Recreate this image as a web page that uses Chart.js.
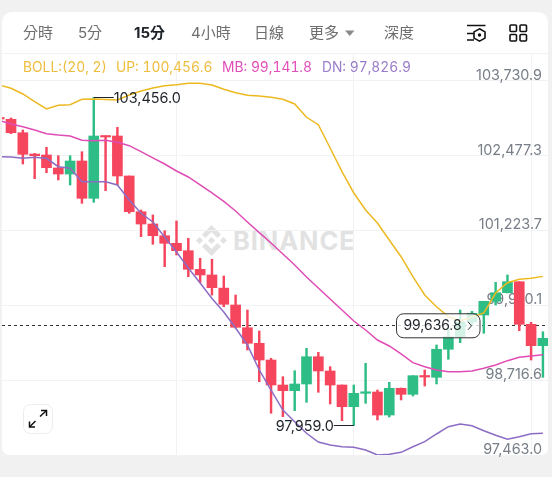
<!DOCTYPE html>
<html>
<head>
<meta charset="utf-8">
<script src="https://cdn.jsdelivr.net/npm/chart.js@4"></script>
<style>
html, body { margin: 0; padding: 0; background: #f1f1f1; overflow: hidden; }
#panel { position: absolute; left: 2px; top: 12px; width: 546px; height: 443px; background: #fff; border-radius: 10px 10px 7px 7px; }
#logo, #mark { position: absolute; }
#logo { left: 196px; top: 225px; width: 31px; height: 31px; }
#mark { left: 233px; top: 225px; font: 700 25.5px Inter, sans-serif; letter-spacing: 0.9px; color: #e2e2e2; }
canvas { position: absolute; left: 0; top: 0; }
.top { position: absolute; white-space: nowrap; font-family: Inter, "Noto Sans CJK TC", sans-serif; }
.tab { top: 23px; font-size: 15px; line-height: 20px; color: #6e6e6e; }
.tab.on { color: #1e2329; font-weight: 700; }
.boll { top: 58px; font-size: 13.8px; line-height: 18px; font-variant-numeric: tabular-nums; }
#rule { position: absolute; left: 2px; top: 53px; width: 546px; height: 1px; background: #f1f2f4; }
svg.icon { position: absolute; overflow: visible; }
</style>
</head>
<body>
<div id="panel"></div>
<svg id="logo" viewBox="0 0 126.61 126.61" fill="#e2e2e2">
  <path d="M38.73 53.2l24.59-24.58 24.6 24.6 14.3-14.31L63.32 0 24.43 38.9z"/>
  <path d="M0 63.31l14.3-14.31 14.31 14.31-14.31 14.3z"/>
  <path d="M38.73 73.41l24.59 24.59 24.6-24.6 14.31 14.29L63.32 126.61 24.42 87.72z"/>
  <path d="M98 63.31l14.3-14.31 14.31 14.3-14.31 14.32z"/>
  <path d="M77.83 63.3L63.32 48.78 48.81 63.28l14.51 14.5z"/>
</svg>
<div id="mark">BINANCE</div>
<canvas id="chart" width="552" height="477"></canvas>
<div id="rule"></div>

<span class="top tab" style="left:23px">分時</span>
<span class="top tab" style="left:78px">5分</span>
<span class="top tab on" style="left:134px">15分</span>
<span class="top tab" style="left:191px">4小時</span>
<span class="top tab" style="left:254px">日線</span>
<span class="top tab" style="left:309px">更多</span>
<span class="top tab" style="left:384px">深度</span>
<svg class="icon" style="left:0;top:0" width="552" height="60">
  <path d="M345 30.5h9.5l-4.75 5.5z" fill="#8a8a8a"/>
  <g fill="none" stroke="#111" stroke-width="1.6">
    <path d="M467 25.5h18.5M467 33.5h7M467 40h7"/>
    <path d="M479.5 28.8l5.5 3.1v6.2l-5.5 3.1-5.5-3.1v-6.2z"/>
    <rect x="510" y="25" width="6.5" height="6.5" rx="1"/>
    <rect x="520" y="25" width="6.5" height="6.5" rx="1"/>
    <rect x="510" y="34.5" width="6.5" height="6.5" rx="1"/>
    <rect x="520" y="34.5" width="6.5" height="6.5" rx="1"/>
  </g>
  <circle cx="479.5" cy="35" r="1.7" fill="#111"/>
</svg>
<span class="top boll" id="bollLabel" style="left:23px;color:#eebd3c"></span>
<span class="top boll" id="upLabel" style="left:116px;color:#eebd3c"></span>
<span class="top boll" id="mbLabel" style="left:222px;color:#e24fb9"></span>
<span class="top boll" id="dnLabel" style="left:322px;color:#9a7cc9"></span>
<svg class="icon" style="left:23px;top:404px" width="30" height="30">
  <rect x="0.5" y="0.5" width="29" height="29" rx="7" fill="#fff" stroke="#ececec"/>
  <g fill="none" stroke="#111" stroke-width="1.5">
    <path d="M7 22.5l5.5-5.5M17 12.5l6-5.5"/>
    <path d="M6.5 17.5v5.5h5.5M18 6.5h5.5v5.5"/>
  </g>
</svg>

<script>
var opens = [103119, 103089, 102864, 102507, 102491, 102273, 102172, 102390, 101765, 102809, 102809, 102139, 101540, 101334, 101138, 101011, 100887, 100575, 100480, 100260, 99977, 99596, 99335, 99055, 98636, 98541, 98653, 99110, 98871, 98636, 98273, 98497, 98519, 98133, 98581, 98480, 98792, 98765, 99235, 99446, 99692, 99809, 100039, 100183, 100367, 99653, 99295];
var closes = [103094, 102864, 102502, 102479, 102278, 102172, 102390, 101765, 102809, 102792, 102139, 101540, 101334, 101138, 101011, 100887, 100575, 100480, 100267, 99989, 99603, 99335, 99055, 98636, 98541, 98653, 99110, 98871, 98636, 98273, 98497, 98519, 98133, 98581, 98480, 98792, 98770, 99235, 99446, 99692, 99838, 100039, 100183, 100367, 99653, 99295, 99419];
var highs = [103130, 103111, 102910, 102516, 102620, 102479, 102479, 102546, 103456, 102809, 102955, 102139, 101569, 101485, 101222, 101385, 101095, 100760, 100743, 100463, 100144, 99893, 99541, 99084, 98775, 98876, 99251, 99184, 98943, 98636, 98636, 99000, 98552, 98681, 98586, 98792, 98888, 99307, 99558, 99893, 99870, 100039, 100357, 100480, 100367, 99687, 99529];
var lows = [103080, 102848, 102340, 102094, 102194, 102072, 101988, 101681, 101698, 101893, 101988, 101514, 101122, 100994, 100619, 100815, 100451, 100351, 100144, 99948, 99591, 99223, 98691, 98162, 98105, 98206, 98346, 98514, 98318, 98038, 97959, 98329, 98050, 98100, 98385, 98452, 98619, 98653, 99067, 99345, 99625, 99503, 99977, 100178, 99546, 99055, 98765];

var upper = [103664, 103609, 103513, 103384, 103262, 103324, 103334, 103424, 103429, 103421, 103413, 103496, 103563, 103614, 103652, 103669, 103692, 103692, 103664, 103592, 103535, 103491, 103479, 103458, 103424, 103346, 103123, 102999, 102608, 102211, 101854, 101569, 101351, 101066, 100786, 100451, 100144, 99948, 99781, 99709, 99776, 99843, 100178, 100351, 100408, 100424, 100456.6];
var middle = [103069, 103010, 102965, 102910, 102848, 102826, 102809, 102737, 102730, 102737, 102704, 102647, 102546, 102441, 102340, 102223, 102122, 101988, 101854, 101712, 101552, 101368, 101190, 101016, 100832, 100647, 100446, 100262, 100077, 99893, 99709, 99558, 99390, 99290, 99156, 99010, 98943, 98888, 98859, 98859, 98871, 98916, 98971, 99044, 99100, 99122, 99141.8];
var lower = [102462, 102457, 102435, 102452, 102435, 102295, 102268, 102043, 102043, 102043, 101988, 101737, 101514, 101368, 101117, 100865, 100597, 100346, 100086, 99860, 99591, 99307, 98888, 98552, 98217, 98021, 97827, 97681, 97631, 97602, 97592, 97547, 97463, 97475, 97508, 97602, 97686, 97815, 97937, 97983, 97954, 97870, 97793, 97726, 97770, 97820, 97826.9];

var priceTicks = [103730.9, 102477.3, 101223.7, 99970.1, 98716.6, 97463.0];
var highMark = { index: 8, value: 103456.0 };
var lowMark = { index: 30, value: 97959.0 };
var lastPrice = 99636.8;
var bollPeriod = [20, 2];

var RED = "#f6465d";
var GREEN = "#2ebd85";
var TEXT = "#1e2329";
var FONT = "14.4px Inter, sans-serif";

function fmt(v) {
    return v.toLocaleString("en-US", { minimumFractionDigits: 1, maximumFractionDigits: 1 });
}

document.getElementById("bollLabel").textContent = "BOLL:(" + bollPeriod.join(", ") + ")";
document.getElementById("upLabel").textContent = "UP: " + fmt(upper[upper.length - 1]);
document.getElementById("mbLabel").textContent = "MB: " + fmt(middle[middle.length - 1]);
document.getElementById("dnLabel").textContent = "DN: " + fmt(lower[lower.length - 1]);

var candleColors = opens.map(function(o, i) { return closes[i] >= o ? GREEN : RED; });
var bodies = opens.map(function(o, i) { return { x: i, y: [o, closes[i]] }; });
var wicks = highs.map(function(h, i) { return { x: i, y: [lows[i], h] }; });

function linePoints(values) {
    return values.map(function(v, i) { return { x: i, y: v }; });
}

function bandLine(values, color) {
    return {
        type: "line",
        data: linePoints(values),
        borderColor: color,
        borderWidth: 1.5,
        pointRadius: 0,
        tension: 0,
        order: 1
    };
}

// dashed last price line goes under the candles
var priceLine = {
    id: "priceLine",
    beforeDatasetsDraw: function(chart) {
        var ctx = chart.ctx, y = Math.round(chart.scales.y.getPixelForValue(lastPrice)) + 0.5;
        ctx.save();
        ctx.strokeStyle = "#333";
        ctx.lineWidth = 1;
        ctx.setLineDash([3, 3]);
        ctx.beginPath();
        ctx.moveTo(chart.chartArea.left, y);
        ctx.lineTo(chart.chartArea.right, y);
        ctx.stroke();
        ctx.restore();
    }
};

// high / low callouts and the last price pill
var callouts = {
    id: "callouts",
    afterDatasetsDraw: function(chart) {
        var ctx = chart.ctx, sx = chart.scales.x, sy = chart.scales.y;
        ctx.save();
        ctx.font = FONT;
        ctx.fillStyle = TEXT;
        ctx.strokeStyle = TEXT;
        ctx.lineWidth = 1;
        ctx.textBaseline = "middle";

        var hx = sx.getPixelForValue(highMark.index), hy = Math.round(sy.getPixelForValue(highMark.value)) + 0.5;
        ctx.beginPath();
        ctx.moveTo(hx, hy);
        ctx.lineTo(hx + 20, hy);
        ctx.stroke();
        ctx.textAlign = "left";
        ctx.fillText(fmt(highMark.value), hx + 20, hy + 1);

        var lx = sx.getPixelForValue(lowMark.index), ly = Math.round(sy.getPixelForValue(lowMark.value)) + 0.5;
        ctx.beginPath();
        ctx.moveTo(lx, ly);
        ctx.lineTo(lx - 20, ly);
        ctx.stroke();
        ctx.textAlign = "right";
        ctx.fillText(fmt(lowMark.value), lx - 20, ly + 1);

        var py = sy.getPixelForValue(lastPrice);
        ctx.beginPath();
        ctx.roundRect(396.5, py - 11.5, 83.5, 24, 7);
        ctx.fillStyle = "rgba(255,255,255,0.8)";
        ctx.fill();
        ctx.strokeStyle = "#333";
        ctx.stroke();
        ctx.fillStyle = TEXT;
        ctx.font = "13.9px Inter, sans-serif";
        ctx.textAlign = "left";
        ctx.fillText(fmt(lastPrice), 403.5, py + 1);
        ctx.beginPath();
        ctx.moveTo(468, py - 3.5);
        ctx.lineTo(471.5, py + 0.5);
        ctx.lineTo(468, py + 4.5);
        ctx.stroke();
        ctx.restore();
    }
};

var myChart = new Chart(document.getElementById("chart").getContext("2d"), {
    type: "bar",
    data: {
        datasets: [
            bandLine(upper, "#edb921"),
            bandLine(middle, "#e04cb5"),
            bandLine(lower, "#8d6cc4"),
            { data: bodies, backgroundColor: candleColors, barThickness: 10, grouped: false, minBarLength: 1.5, order: 2 },
            { data: wicks, backgroundColor: candleColors, barThickness: 1.8, grouped: false, order: 3 }
        ]
    },
    options: {
        responsive: false,
        animation: false,
        layout: { padding: { left: 2, right: 4, top: 53, bottom: 22 } },
        plugins: { legend: { display: false }, tooltip: { enabled: false } },
        scales: {
            x: {
                type: "linear",
                offset: false,
                min: 0.237,
                max: 46.43,
                grid: { color: "#f1f2f4", drawTicks: false, offset: false },
                border: { display: false },
                ticks: { display: false, stepSize: 15, includeBounds: false }
            },
            y: {
                position: "right",
                min: 97463,
                max: 104200,
                // labels sit inside the plot, the axis takes no room of its own
                afterFit: function(axis) { axis.width = 0; },
                afterBuildTicks: function(axis) {
                    axis.ticks = priceTicks.map(function(v) { return { value: v }; });
                },
                grid: { color: "#f1f2f4", drawTicks: false },
                border: { display: false },
                ticks: {
                    mirror: true,
                    padding: -6,
                    labelOffset: -5.5,
                    color: "#777e87",
                    font: { family: "Inter, sans-serif", size: 14.4 },
                    callback: function(v) { return fmt(v); }
                }
            }
        }
    },
    plugins: [priceLine, callouts]
});
</script>
</body>
</html>
